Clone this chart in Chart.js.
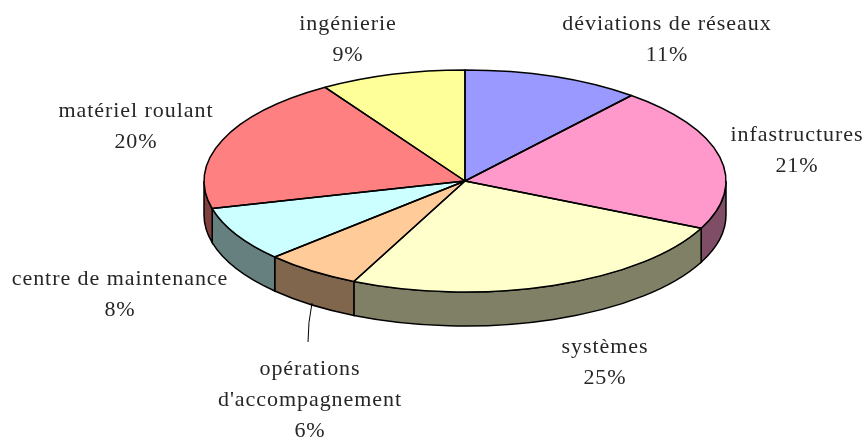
<!DOCTYPE html>
<html>
<head>
<meta charset="utf-8">
<title>Répartition des coûts</title>
<script src="https://cdn.jsdelivr.net/npm/chart.js@4/dist/chart.umd.min.js"></script>
<style>
  html, body { margin: 0; padding: 0; background: #fff; }
  canvas { display: block; }
</style>
</head>
<body>
<canvas id="pie3d" width="868" height="443"></canvas>
<script>
const categories = ['déviations de réseaux', 'infastructures', 'systèmes', "opérations\nd'accompagnement", 'centre de maintenance', 'matériel roulant', 'ingénierie'];
const shares     = [11, 21, 25, 6, 8, 20, 9];
const topColors  = ['#9999FF', '#FF99CC', '#FFFFCC', '#FFCC99', '#CCFFFF', '#FF8080', '#FFFF99'];
const sideColors = ['#4D4D80', '#804D66', '#808066', '#80664D', '#668080', '#804040', '#808050'];

// centre x / first line y of every label, same order as categories
const labelX = [667, 797, 605, 310, 120, 136, 348];
const labelY = [24, 135, 347, 369, 279, 111, 24];
const LINE_H = 31;

const RADIUS = 261;
const SQUASH = 111 / 261;
const DEPTH  = 34;
const TEXT   = '#262626';

// Squash the library's round pie into an ellipse and put the rim under it
const tiltPlugin = {
  id: 'tilt',
  beforeDatasetsDraw(chart) {
    const ctx  = chart.ctx;
    const arcs = chart.getDatasetMeta(0).data;
    const { x, y, outerRadius } = arcs[0];
    const ry = outerRadius * SQUASH;

    ctx.save();
    ctx.lineWidth = 1.5;
    ctx.strokeStyle = '#000';
    arcs.forEach((arc, i) => {
      // keep only the front half of the rim (canvas angles 0..PI)
      const from = Math.max(arc.startAngle, 0);
      const to   = Math.min(arc.endAngle, Math.PI);
      if (to <= from) return;
      ctx.beginPath();
      ctx.ellipse(x, y, outerRadius, ry, 0, from, to);
      ctx.ellipse(x, y + DEPTH, outerRadius, ry, 0, to, from, true);
      ctx.closePath();
      ctx.fillStyle = sideColors[i];
      ctx.fill();
      ctx.stroke();
    });
    ctx.restore();

    ctx.save();
    ctx.translate(x, y);
    ctx.scale(1, SQUASH);
    ctx.translate(-x, -y);
  },
  afterDatasetsDraw(chart) {
    const ctx  = chart.ctx;
    ctx.restore();

    const arcs = chart.getDatasetMeta(0).data;
    const { x, y, outerRadius } = arcs[0];
    const ry = outerRadius * SQUASH;

    // outlines here, a stroke inside the squash would get uneven
    ctx.save();
    ctx.lineWidth = 1.5;
    ctx.strokeStyle = '#000';
    ctx.lineJoin = 'round';
    arcs.forEach(arc => {
      ctx.beginPath();
      ctx.moveTo(x, y);
      ctx.ellipse(x, y, outerRadius, ry, 0, arc.startAngle, arc.endAngle);
      ctx.closePath();
      ctx.stroke();
    });

    // leader line for the small slice
    ctx.lineWidth = 1;
    ctx.beginPath();
    ctx.moveTo(312, 303);
    ctx.quadraticCurveTo(308, 322, 308, 342);
    ctx.stroke();

    // labels
    ctx.fillStyle = TEXT;
    ctx.font = '22px "Liberation Serif"';
    ctx.letterSpacing = '0.95px';
    ctx.textAlign = 'center';
    ctx.textBaseline = 'middle';
    categories.forEach((name, i) => {
      const lines = name.split('\n').concat(shares[i] + '%');
      lines.forEach((line, k) => ctx.fillText(line, labelX[i], labelY[i] + k * LINE_H));
    });
    ctx.restore();
  }
};

new Chart(document.getElementById('pie3d'), {
  type: 'pie',
  data: {
    labels: categories,
    datasets: [{
      data: shares,
      backgroundColor: topColors,
      borderWidth: 0,
      clip: false
    }]
  },
  options: {
    responsive: false,
    animation: false,
    radius: RADIUS,
    layout: { padding: { left: 62, bottom: 81 } },
    plugins: {
      legend: { display: false },
      tooltip: { enabled: false }
    }
  },
  plugins: [tiltPlugin]
});
</script>
</body>
</html>
